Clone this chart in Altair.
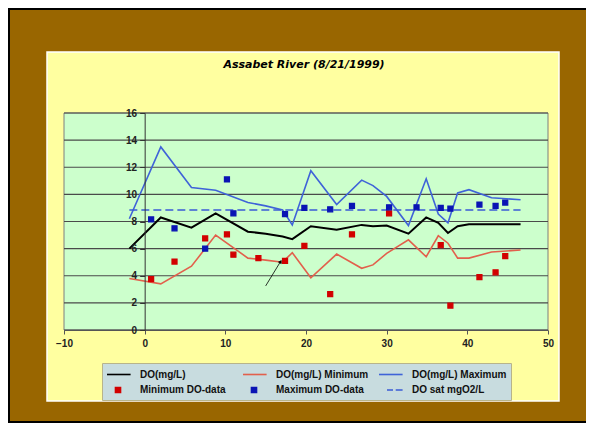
import altair as alt
import pandas as pd

# ---------------- data ----------------
title_text = ["Assabet River (8/21/1999)"]

series_names = ["DO(mg/L)", "DO(mg/L) Minimum", "DO(mg/L) Maximum",
                "Minimum DO-data", "Maximum DO-data", "DO sat mgO2/L"]

dist_x = [-1.9, 2.0, 5.8, 8.8, 12.8, 15.0, 17.1, 18.3, 20.6, 23.8, 26.9,
          28.3, 30.0, 32.7, 34.9, 36.4, 37.6, 38.8, 40.2, 43.0, 46.6]
do_mean = [6.0, 8.3, 7.55, 8.6, 7.25, 7.1, 6.9, 6.7, 7.65, 7.4, 7.75,
           7.65, 7.7, 7.1, 8.3, 7.9, 7.15, 7.65, 7.8, 7.8, 7.8]
do_min = [3.8, 3.4, 4.7, 7.0, 5.3, 5.15, 5.0, 5.7, 3.85, 5.6, 4.55,
          4.8, 5.65, 6.65, 5.4, 6.95, 6.4, 5.3, 5.3, 5.75, 5.9]
do_max = [8.2, 13.5, 10.5, 10.3, 9.4, 9.15, 8.85, 7.75, 11.75, 9.25, 11.05,
          10.65, 9.85, 7.7, 11.15, 8.55, 7.9, 10.1, 10.35, 9.75, 9.6]

sat_x = [-1.9, 46.6]
sat_y = [8.85, 8.85]

min_data_x = [0.8, 3.7, 7.5, 10.2, 11.0, 14.1, 17.4, 19.8, 23.0, 25.7, 30.3,
              36.7, 37.9, 41.5, 43.5, 44.7]
min_data_y = [3.75, 5.05, 6.75, 7.05, 5.55, 5.3, 5.1, 6.2, 2.65, 7.05, 8.6,
              6.25, 1.8, 3.9, 4.25, 5.45]
max_data_x = [0.8, 3.7, 7.5, 10.2, 11.0, 17.4, 19.8, 23.0, 25.7, 30.3, 33.7,
              36.7, 37.9, 41.5, 43.5, 44.7]
max_data_y = [8.15, 7.5, 6.0, 11.1, 8.6, 8.55, 9.0, 8.9, 9.15, 9.05, 9.05,
              9.0, 8.95, 9.25, 9.15, 9.4]

arrow_x = [15.0, 16.85]
arrow_y = [3.25, 5.05]

x_ticks = [-10, 0, 10, 20, 30, 40, 50]
y_ticks = [0, 2, 4, 6, 8, 10, 12, 14, 16]

# ---------------- style ----------------
BROWN = "#996600"
YELLOW = "#FFFFA0"
GREEN = "#CCFFCC"
GRID = "#4A4A4A"
C_MEAN = "#000000"
C_MINL = "#E2604C"
C_MAXL = "#3F63D8"
C_MINP = "#D20000"
C_MAXP = "#0A14B4"
C_SAT = "#3A5BD6"
series_colors = [C_MEAN, C_MINL, C_MAXL, C_MINP, C_MAXP, C_SAT]
# legend / point symbols (unit = half of sqrt(size) = 6 px)
LINE = "M-1.83,0H2.1"
SQ = "M-0.42,-0.42H0.42V0.42H-0.42Z"
DASH = "M-0.5,0H0.5M0.95,0H2.1"
series_shapes = [LINE, LINE, LINE, SQ, SQ, DASH]

W, H = 484, 217
PAD = {"left": 56, "top": 105, "right": 38, "bottom": 93}   # whole svg 578 x 415
FONT = "Liberation Sans"

xs = alt.Scale(domain=[-10, 50], nice=False, zero=False)
ys = alt.Scale(domain=[0, 16], nice=False, zero=False)
one = pd.DataFrame({"k": [0]})

x_axis = alt.Axis(values=x_ticks, grid=False, title=None, domain=True,
                  domainColor="#555555", domainWidth=1, ticks=True,
                  tickColor="#555555", tickSize=4, labelFont=FONT,
                  labelFontSize=10, labelFontWeight="bold", labelColor="#222222",
                  labelPadding=4, labelFlush=False, format="d", zindex=1)
# y axis crosses the x axis at x = 0 (one sixth of the way across)
y_axis = alt.Axis(values=y_ticks, offset=-W / 6, grid=False, title=None,
                  domain=True, domainColor="#333333", domainWidth=1, ticks=True,
                  tickColor="#333333", tickSize=5, labelFont=FONT,
                  labelFontSize=10, labelFontWeight="bold", labelColor="#222222",
                  labelPadding=3, format="d", zindex=1)


def X(field):
    return alt.X(field, scale=xs, axis=x_axis)


def Y(field):
    return alt.Y(field, scale=ys, axis=y_axis)


frame = alt.Chart(one).mark_rect(fill="transparent", stroke="black", strokeWidth=2).encode(
    x=alt.value(-55), x2=alt.value(W + 60), y=alt.value(-104), y2=alt.value(H + PAD["bottom"] - 1))
panel = alt.Chart(one).mark_rect(fill=YELLOW, stroke="white", strokeWidth=1.5).encode(
    x=alt.value(-17), x2=alt.value(W + 11), y=alt.value(-61), y2=alt.value(H + 71))
plotbg = alt.Chart(one).mark_rect(fill=GREEN, stroke="#7F7F7F", strokeWidth=1).encode(
    x=alt.value(0), x2=alt.value(W), y=alt.value(0), y2=alt.value(H))

grid = alt.Chart(pd.DataFrame({"g": y_ticks})).mark_rule(color=GRID, strokeWidth=1.1).encode(
    y=Y("g:Q"))

line_df = pd.DataFrame({"x": dist_x, "mean": do_mean, "min": do_min, "max": do_max})


def line_layer(col, color, width):
    return alt.Chart(line_df).mark_line(color=color, strokeWidth=width).encode(
        x=X("x:Q"), y=Y(f"{col}:Q"))


min_line = line_layer("min", C_MINL, 1.6)
max_line = line_layer("max", C_MAXL, 1.6)
mean_line = line_layer("mean", C_MEAN, 2.0)

sat_df = pd.DataFrame({"x": sat_x, "y": sat_y})
sat_line = alt.Chart(sat_df).mark_line(color=C_SAT, strokeWidth=1.6, strokeDash=[8, 4]).encode(
    x=X("x:Q"), y=Y("y:Q"))

pts_df = pd.DataFrame({
    "x": min_data_x + max_data_x,
    "y": min_data_y + max_data_y,
    "series": ["Minimum DO-data"] * len(min_data_x) + ["Maximum DO-data"] * len(max_data_x),
})

leg = alt.Legend(title=None, orient="none", legendX=38, legendY=250,
                 direction="horizontal", columns=3, fillColor="#C8DCDF",
                 strokeColor="#B8B48A", padding=4, rowPadding=3, columnPadding=4,
                 labelFont=FONT, labelFontSize=10, labelFontWeight="bold",
                 labelColor="#111111", symbolSize=144, symbolStrokeWidth=1.6,
                 symbolOffset=5, labelOffset=15, gridAlign="all", zindex=1)

points = alt.Chart(pts_df).mark_point(filled=True, size=144, strokeWidth=1.2, opacity=1).encode(
    x=X("x:Q"),
    y=Y("y:Q"),
    fill=alt.Fill("series:N", scale=alt.Scale(domain=series_names, range=series_colors), legend=leg),
    stroke=alt.Stroke("series:N", scale=alt.Scale(domain=series_names, range=series_colors), legend=leg),
    shape=alt.Shape("series:N", scale=alt.Scale(domain=series_names, range=series_shapes), legend=leg),
)

arrow_df = pd.DataFrame({"x": [arrow_x[0]], "y": [arrow_y[0]], "x2": [arrow_x[1]], "y2": [arrow_y[1]]})
arrow = alt.Chart(arrow_df).mark_rule(color="black", strokeWidth=0.8).encode(
    x=X("x:Q"), y=Y("y:Q"), x2="x2:Q", y2="y2:Q")
head = alt.Chart(pd.DataFrame({"x": [arrow_x[1]], "y": [arrow_y[1]]})).mark_point(
    shape="triangle-up", filled=True, color="black", size=18, angle=31, opacity=1).encode(
    x=X("x:Q"), y=Y("y:Q"))

title_layer = alt.Chart(pd.DataFrame({"t": title_text})).mark_text(
    font="DejaVu Sans", fontSize=11, fontWeight="bold", fontStyle="italic",
    color="black", align="center", baseline="middle").encode(
    text="t:N", x=alt.value(240), y=alt.value(-48))

chart = alt.layer(
    frame, panel, plotbg, grid, min_line, max_line, mean_line, sat_line,
    points, arrow, head, title_layer
).properties(
    width=W, height=H,
    autosize=alt.AutoSizeParams(type="none"),
    padding=PAD,
    background=BROWN,
).configure_view(strokeWidth=0, fill=GREEN)

chart.save("out.html", embed_options={"renderer": "svg", "actions": False})
